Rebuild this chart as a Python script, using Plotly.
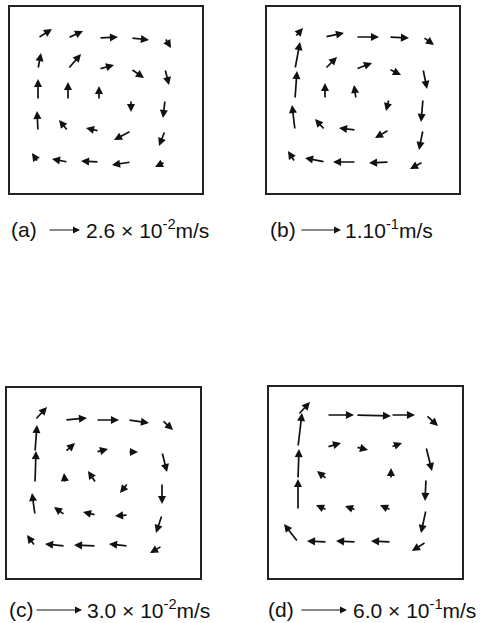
import plotly.graph_objects as go

FIG_W, FIG_H = 484, 623
FONT = "Liberation Sans, Arial, Helvetica, sans-serif"
INK = "#111111"

# ---- panel (a): grid of measurement points and velocity components ----
GX_A = [28, 58, 89, 121, 155]
GY_A = [155, 124, 93, 62, 31]
U_A = [[14, 15, 19, 18, 6],
       [3, 13, 15, 13, 4],
       [0, 0, 0, 0, -2],
       [-1, -9, -13, -17, -6],
       [-6, -16, -18, -19, -10]]
V_A = [[9, 7, 1, -2, -10],
       [16, 15, 4, -9, -16],
       [21, 18, 14, -12, -18],
       [20, 11, 3, -9, -15],
       [9, 3, 1, -3, -5]]

# ---- panel (b) ----
GX_B = [28, 58, 89, 122, 156]
GY_B = [156, 124, 94, 63, 31]
U_B = [[8, 19, 23, 20, 11],
       [5, 12, 16, 12, 4],
       [2, 0, -2, -3, -2],
       [-3, -10, -17, -14, -4],
       [-7, -20, -23, -20, -13]]
V_B = [[9, 4, 0, -1, -8],
       [27, 12, 6, -6, -20],
       [28, 16, 14, -12, -23],
       [25, 11, 2, -8, -20],
       [11, 4, 0, -1, -7]]

# ---- panel (c) ----
GX_C = [28, 58, 89, 121, 155]
GY_C = [158, 126, 95, 63, 32]
U_C = [[12, 22, 23, 21, 11],
       [2, 10, 12, 10, 5],
       [1, -1, -8, -8, 0],
       [-3, -11, -13, -13, -6],
       [-8, -20, -22, -19, -12]]
V_C = [[13, 2, 0, -3, -10],
       [27, 9, 3, 0, -20],
       [32, 10, 12, -10, -21],
       [22, 8, 3, -1, -18],
       [11, 2, 1, 2, -7]]

# ---- panel (d) ----
GX_D = [29, 58, 87, 122, 157]
GY_D = [163, 131, 99, 68, 36]
U_D = [[12, 27, 35, 24, 12],
       [4, 14, 12, 11, 6],
       [1, -10, 1.5, 0, -1],
       [0, -11, -11, -11, -5],
       [-14, -20, -20, -20, -14]]
V_D = [[13, 0, -1, 0, -11],
       [34, 4, -3, 4, -24],
       [30, 8, 0, 11, -22],
       [31, 5, 4, 5, -23],
       [18, 1, 1, 1, -9]]

# captions and reference-arrow lengths (same units as the vectors)
LABELS = ["(a)", "(b)", "(c)", "(d)"]
SCALE_TEXT = ["2.6 \u00d7 10<sup>-2</sup>m/s",
              "1.10<sup>-1</sup>m/s",
              "3.0 \u00d7 10<sup>-2</sup>m/s",
              "6.0 \u00d7 10<sup>-1</sup>m/s"]
SCALE_LEN = [32, 41, 47, 47]

# layout of each panel: box (left, top, right, bottom) in pixels,
# caption row: label x, arrow start x, text x, centre y
PANELS = [
    dict(gx=GX_A, gy=GY_A, u=U_A, v=V_A, box=(10, 7, 202, 193), cap=(9, 48, 84, 229)),
    dict(gx=GX_B, gy=GY_B, u=U_B, v=V_B, box=(267, 7, 459, 193), cap=(268, 300, 343, 229)),
    dict(gx=GX_C, gy=GY_C, u=U_C, v=V_C, box=(7, 388, 200, 578), cap=(7, 35, 85, 609)),
    dict(gx=GX_D, gy=GY_D, u=U_D, v=V_D, box=(269, 387, 462, 578), cap=(266, 300, 351, 609)),
]

fig = go.Figure()
annotations = []
layout_axes = {}

for i, p in enumerate(PANELS):
    n = "" if i == 0 else str(i + 1)
    xr, yr = "x" + n, "y" + n
    left, top, right, bottom = p["box"]
    w, h = right - left, bottom - top

    axis_style = dict(showline=True, mirror=True, linecolor="#222222", linewidth=1.6,
                      showgrid=False, zeroline=False, showticklabels=False, ticks="",
                      fixedrange=True)
    layout_axes["xaxis" + n] = dict(axis_style, domain=[left / FIG_W, right / FIG_W],
                                    range=[0, w], anchor=yr)
    layout_axes["yaxis" + n] = dict(axis_style, domain=[1 - bottom / FIG_H, 1 - top / FIG_H],
                                    range=[0, h], anchor=xr)

    xs, ys = [], []
    for r, y0 in enumerate(p["gy"]):
        for c, x0 in enumerate(p["gx"]):
            u, v = p["u"][r][c], p["v"][r][c]
            length = (u * u + v * v) ** 0.5
            xs.append(x0)
            ys.append(y0)
            # heads shrink on very short vectors so the shaft stays visible
            annotations.append(dict(
                x=x0 + u, y=y0 + v, ax=x0, ay=y0,
                xref=xr, yref=yr, axref=xr, ayref=yr,
                text="", showarrow=True, arrowhead=2,
                arrowsize=max(0.3, min(0.95, 0.09 * length + 0.1)),
                arrowwidth=1.7, arrowcolor=INK, standoff=0, startstandoff=0))

    # invisible anchor points so every subplot is laid out
    fig.add_trace(go.Scatter(x=xs, y=ys, xaxis=xr, yaxis=yr, mode="markers",
                             marker=dict(size=1, opacity=0), hoverinfo="skip",
                             showlegend=False))

    # caption: label, reference arrow, reference speed
    lx, ax0, tx, cy = p["cap"]
    yc = 1 - cy / FIG_H
    annotations.append(dict(x=lx / FIG_W, y=yc, xref="paper", yref="paper",
                            text=LABELS[i], showarrow=False, xanchor="left",
                            yanchor="middle", font=dict(family=FONT, size=21, color=INK)))
    annotations.append(dict(x=(ax0 + SCALE_LEN[i]) / FIG_W, y=1 - (cy + 1) / FIG_H,
                            xref="paper", yref="paper", ax=-SCALE_LEN[i], ay=0,
                            text="", showarrow=True, arrowhead=2, arrowsize=1.4,
                            arrowwidth=1.0, arrowcolor=INK, standoff=0, startstandoff=0))
    annotations.append(dict(x=tx / FIG_W, y=yc, xref="paper", yref="paper",
                            text=SCALE_TEXT[i], showarrow=False, xanchor="left",
                            yanchor="middle", font=dict(family=FONT, size=21, color=INK)))

fig.update_layout(
    width=FIG_W, height=FIG_H,
    margin=dict(l=0, r=0, t=0, b=0),
    paper_bgcolor="white", plot_bgcolor="white",
    showlegend=False,
    annotations=annotations,
    **layout_axes,
)

fig.write_html("out.html")
